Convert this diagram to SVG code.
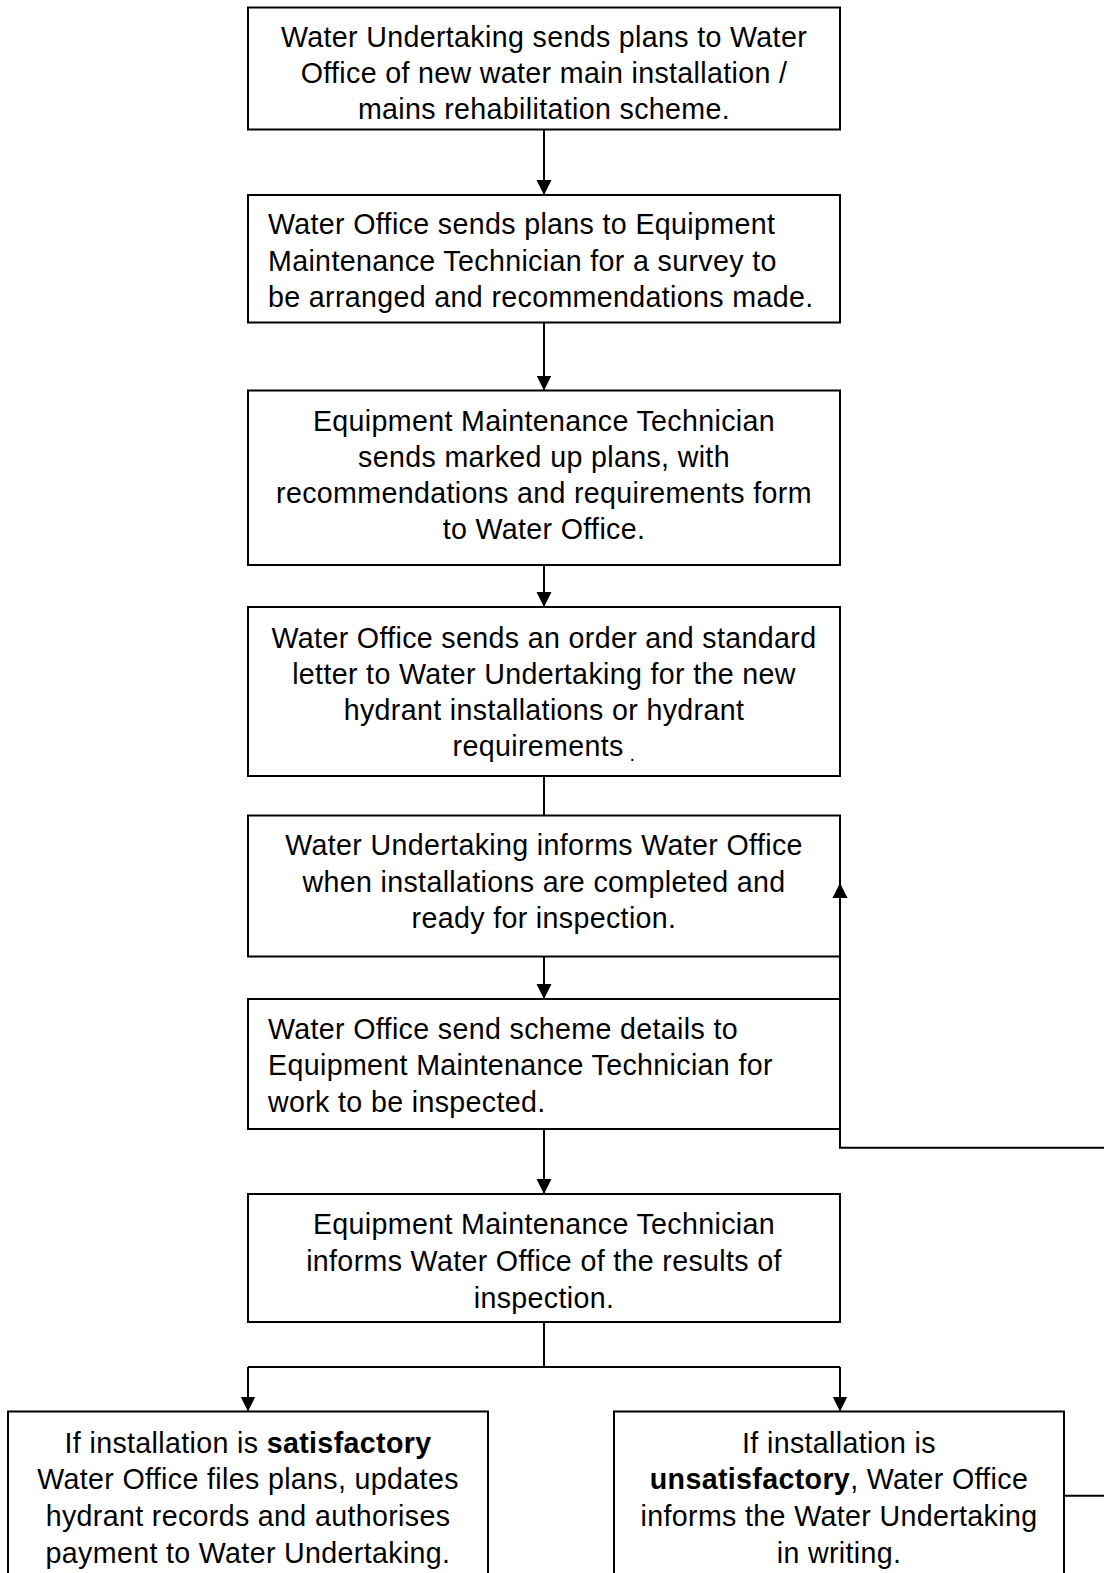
<svg xmlns="http://www.w3.org/2000/svg" width="1104" height="1573" viewBox="0 0 1104 1573">
<style>
.box{fill:#fff;stroke:#000;stroke-width:2}
.ln{fill:none;stroke:#000;stroke-width:2}
.t{font-family:"Liberation Sans",Arial,sans-serif;font-size:28.6px;letter-spacing:0.35px;fill:#000}
.c{text-anchor:middle}
.l{text-anchor:start}
.b{font-weight:bold}
</style>
<defs>
<marker id="arr" markerUnits="userSpaceOnUse" markerWidth="16" markerHeight="16" viewBox="0 0 16 16" refX="15" refY="8" orient="auto">
<path d="M0,0.5 L15,8 L0,15.5 z" fill="#000"/>
</marker>
</defs>
<rect width="1104" height="1573" fill="#fff"/>
<g id="n1">
<rect class="box" x="248" y="7.5" width="592" height="122"/>
<text class="t c" x="544" y="47">Water Undertaking sends plans to Water</text>
<text class="t c" x="544" y="83">Office of new water main installation /</text>
<text class="t c" x="544" y="119">mains rehabilitation scheme.</text>
</g>
<g id="n2">
<rect class="box" x="248" y="195" width="592" height="127.5"/>
<text class="t l" x="268" y="234">Water Office sends plans to Equipment</text>
<text class="t l" x="268" y="270.5">Maintenance Technician for a survey to</text>
<text class="t l" x="268" y="307">be arranged and recommendations made.</text>
</g>
<g id="n3">
<rect class="box" x="248" y="390.5" width="592" height="174.5"/>
<text class="t c" x="544" y="431">Equipment Maintenance Technician</text>
<text class="t c" x="544" y="467">sends marked up plans, with</text>
<text class="t c" x="544" y="503">recommendations and requirements form</text>
<text class="t c" x="544" y="539">to Water Office.</text>
</g>
<g id="n4">
<rect class="box" x="248" y="607" width="592" height="169"/>
<text class="t c" x="544" y="648">Water Office sends an order and standard</text>
<text class="t c" x="544" y="684">letter to Water Undertaking for the new</text>
<text class="t c" x="544" y="720">hydrant installations or hydrant</text>
<text class="t c" x="544" y="756">requirements<tspan font-size="20" dy="5"> .</tspan></text>
</g>
<g id="n5">
<rect class="box" x="248" y="815.5" width="592" height="141"/>
<text class="t c" x="544" y="855">Water Undertaking informs Water Office</text>
<text class="t c" x="544" y="891.5">when installations are completed and</text>
<text class="t c" x="544" y="928">ready for inspection.</text>
</g>
<g id="n6">
<rect class="box" x="248" y="999" width="592" height="130"/>
<text class="t l" x="268" y="1039">Water Office send scheme details to</text>
<text class="t l" x="268" y="1075">Equipment Maintenance Technician for</text>
<text class="t l" x="268" y="1112">work to be inspected.</text>
</g>
<g id="n7">
<rect class="box" x="248" y="1194" width="592" height="128"/>
<text class="t c" x="544" y="1234">Equipment Maintenance Technician</text>
<text class="t c" x="544" y="1271">informs Water Office of the results of</text>
<text class="t c" x="544" y="1307.5">inspection.</text>
</g>
<g id="n8">
<rect class="box" x="8" y="1411.5" width="480" height="200"/>
<text class="t c" x="248" y="1452.5">If installation is <tspan class="b">satisfactory</tspan></text>
<text class="t c" x="248" y="1489">Water Office files plans, updates</text>
<text class="t c" x="248" y="1526">hydrant records and authorises</text>
<text class="t c" x="248" y="1562.5">payment to Water Undertaking.</text>
</g>
<g id="n9">
<rect class="box" x="614" y="1411.5" width="450" height="200"/>
<text class="t c" x="839" y="1452.5">If installation is</text>
<text class="t c" x="839" y="1489"><tspan class="b">unsatisfactory</tspan>, Water Office</text>
<text class="t c" x="839" y="1526">informs the Water Undertaking</text>
<text class="t c" x="839" y="1562.5">in writing.</text>
</g>
<g id="connectors">
<path class="ln" d="M544 129.5 V195" marker-end="url(#arr)"/>
<path class="ln" d="M544 322.5 V390.5" marker-end="url(#arr)"/>
<path class="ln" d="M544 565 V607" marker-end="url(#arr)"/>
<path class="ln" d="M544 776 V815.5"/>
<path class="ln" d="M544 956.5 V999" marker-end="url(#arr)"/>
<path class="ln" d="M544 1129 V1194" marker-end="url(#arr)"/>
<path class="ln" d="M544 1322 V1367 M248 1367 H840"/>
<path class="ln" d="M248 1367 V1411.5" marker-end="url(#arr)"/>
<path class="ln" d="M840 1367 V1411.5" marker-end="url(#arr)"/>
<path class="ln" d="M1110 1147.7 H840 V883" marker-end="url(#arr)"/>
<path class="ln" d="M1064 1495.7 H1110"/>
</g>
</svg>
